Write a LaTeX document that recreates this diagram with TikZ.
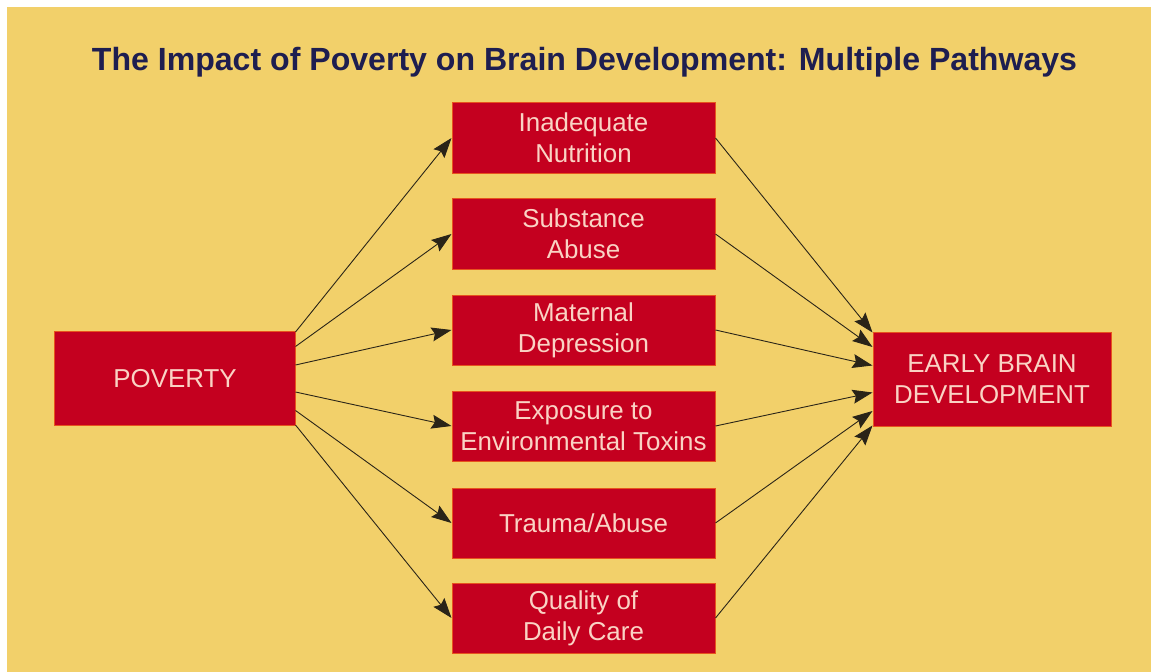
\documentclass[tikz,border=0pt]{standalone}
\usepackage{fontspec}
\setmainfont{Liberation Sans}
\usetikzlibrary{arrows.meta}
\definecolor{bgyellow}{HTML}{F2D06A}
\definecolor{boxred}{HTML}{C4001F}
\definecolor{boxedge}{HTML}{E8521E}
\definecolor{boxtext}{HTML}{FAD3C4}
\definecolor{titleblue}{HTML}{1E1E50}
\definecolor{arrowline}{HTML}{2A2418}
\tikzset{
  redbox/.style={draw=boxedge, line width=1bp, fill=boxred, text=boxtext,
    inner sep=0pt, align=center, font=\fontsize{26}{31}\selectfont},
  midbox/.style={redbox, minimum width=263bp, minimum height=70bp},
  endbox/.style={redbox, minimum width=240bp, minimum height=94bp},
  link/.style={draw=arrowline, line width=0.9bp, -{Stealth[length=20bp,width=14bp,inset=3bp]}}
}
\begin{document}
\begin{tikzpicture}[x=1bp,y=-1bp]
\useasboundingbox (0,0) rectangle (1151,672);
\fill[white] (0,0) rectangle (1151,672);
\fill[bgyellow] (7,7) rectangle (1151,672);
\node[anchor=base, text=titleblue, font=\fontsize{32.2}{38}\selectfont\bfseries, inner sep=0pt] (title) at (584.5,71) {The Impact of Poverty on Brain Development: Multiple Pathways};
\node[endbox] (pov) at (175,378.5) {POVERTY};
\node[endbox, minimum width=238bp] (ebd) at (992,379) {EARLY BRAIN\\DEVELOPMENT};
\node[midbox] (m1) at (583.5,138) {Inadequate\\Nutrition};
\node[midbox] (m2) at (583.5,234) {Substance\\Abuse};
\node[midbox] (m3) at (583.5,330) {Maternal\\Depression};
\node[midbox] (m4) at (583.5,426) {Exposure to\\Environmental Toxins};
\node[midbox] (m5) at (583.5,523) {Trauma/Abuse};
\node[midbox] (m6) at (583.5,618) {Quality of\\Daily Care};
% poverty to pathways
\draw[link] ([yshift=46.5bp]pov.east) -- (m1.west);
\draw[link] ([yshift=32bp]pov.east) -- (m2.west);
\draw[link] ([yshift=13.5bp]pov.east) -- (m3.west);
\draw[link] ([yshift=-13.5bp]pov.east) -- (m4.west);
\draw[link] ([yshift=-32bp]pov.east) -- (m5.west);
\draw[link] ([yshift=-46.5bp]pov.east) -- (m6.west);
% pathways to outcome
\draw[link] (m1.east) -- ([yshift=46.5bp]ebd.west);
\draw[link] (m2.east) -- ([yshift=32bp]ebd.west);
\draw[link] (m3.east) -- ([yshift=13.5bp]ebd.west);
\draw[link] (m4.east) -- ([yshift=-13.5bp]ebd.west);
\draw[link] (m5.east) -- ([yshift=-32bp]ebd.west);
\draw[link] (m6.east) -- ([yshift=-46.5bp]ebd.west);
\end{tikzpicture}
\end{document}
